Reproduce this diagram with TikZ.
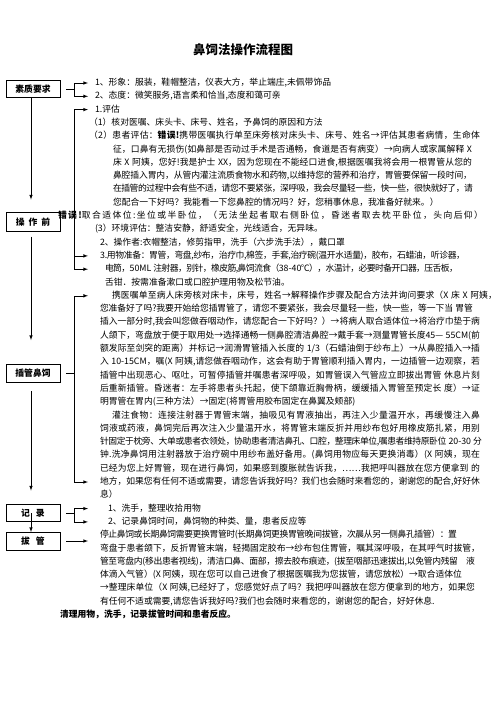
\documentclass[tikz,border=0pt]{standalone}
\usepackage{fontspec}
\setmainfont{Noto Sans CJK SC}
\usetikzlibrary{arrows,positioning}
% glue between CJK characters, so that a line can be set to a width
\XeTeXinterchartokenstate=1
\newcount\cjkc
\newcommand{\cjkrange}[2]{\cjkc=#1 \loop\XeTeXcharclass\cjkc=1 \advance\cjkc by 1 \ifnum\cjkc<#2 \repeat}
\cjkrange{"4E00}{"9FA6}
\cjkrange{"3000}{"3040}
\cjkrange{"FF00}{"FFF0}
\cjkrange{"2190}{"2200}
\cjkrange{"2014}{"2015}
\cjkrange{"2026}{"2027}
\cjkrange{"2103}{"2104}
\XeTeXinterchartoks 1 1 = {\hskip0pt plus 3pt minus 1pt\relax}
\XeTeXinterchartoks 1 0 = {\hskip0pt plus 3pt minus 1pt\relax}
\XeTeXinterchartoks 0 1 = {\hskip0pt plus 3pt minus 1pt\relax}
\newcommand{\jl}[2]{\makebox[#1pt][s]{\spaceskip=2.5pt plus 3pt minus 1pt #2}}

\begin{document}
\begin{tikzpicture}[x=1pt,y=-1pt,line width=0.6pt,every node/.style={outer sep=0pt}]

\tikzstyle{stage}=[draw,minimum width=54pt,minimum height=17pt,inner sep=0pt,font=\bfseries\fontsize{8.8pt}{10pt}\selectfont]
\tikzstyle{txt}=[anchor=west,inner sep=0pt,text height=7pt,text depth=2pt,font=\fontsize{8.8pt}{10pt}\selectfont]
\tikzstyle{flow}=[-latex]

\fill[white] (0,0) rectangle (500,707);
\useasboundingbox (0,0) rectangle (500,707);

\node[font=\bfseries\fontsize{12.5pt}{14pt}\selectfont] (title) at (243,50) {鼻饲法操作流程图};

% stages on the left
\node[stage] (qual) at (33,89) {素质要求};
\node[stage,minimum height=19pt] (pre) at (33,222) {操\hspace{4pt}作\hspace{4pt}前};
\node[stage,minimum height=18pt] (ins) at (33,373) {插管鼻饲};
\node[stage] (rec) at (33,513) {记\hspace{6pt}录};
\node[stage,minimum height=18pt] (pull) at (33,541) {拔\hspace{6pt}管};

% text lines
\node[txt] (l1) at (95,83.0) {1、形象：服装，鞋帽整洁，仪表大方，举止端庄,未佩带饰品};
\node[txt] (l2) at (95,96.3) {2、态度：微笑服务,语言柔和恰当,态度和蔼可亲};
\node[txt] (l3) at (95,109.6) {1.评估};
\node[txt] (l4) at (89,122.9) {（1）核对医嘱、床头卡、床号、姓名，予鼻饲的原因和方法};
\node[txt] (l5) at (89,136.2) {\jl{391}{（2）患者评估：\textbf{错误!}携带医嘱执行单至床旁核对床头卡、床号、姓名→评估其患者病情，生命体}};
\node[txt] (l6) at (113,149.5) {\jl{359}{征，口鼻有无损伤(如鼻部是否动过手术是否通畅，食道是否有病变）→向病人或家属解释 X}};
\node[txt] (l7) at (113,162.8) {\jl{359}{床 X 阿姨，您好!我是护士 XX，因为您现在不能经口进食,根据医嘱我将会用一根胃管从您的}};
\node[txt] (l8) at (113,176.1) {\jl{359}{鼻腔插入胃内，从管内灌注流质食物水和药物,以维持您的营养和治疗，胃管要保留一段时间，}};
\node[txt] (l9) at (113,189.4) {\jl{360}{在插管的过程中会有些不适，请您不要紧张，深呼吸，我会尽量轻一些，快一些，很快就好了，请}};
\node[txt] (l10) at (113,202.7) {您配合一下好吗？我能看一下您鼻腔的情况吗？好，您稍事休息，我准备好就来。）};
\node[txt] (l11) at (58,216.0) {\jl{425}{\textbf{错误!}取合适体位:坐位或半卧位，（无法坐起者取右侧卧位，昏迷者取去枕平卧位，头向后仰）}};
\node[txt] (l12) at (95,229.3) {(3）环境评估：整洁安静，舒适安全，光线适合，无异味。};
\node[txt] (l13) at (100,242.6) {2、操作者:衣帽整洁，修剪指甲，洗手（六步洗手法），戴口罩};
\node[txt] (l14) at (100,255.9) {\jl{365}{3.用物准备：胃管，弯盘,纱布，治疗巾,棉签，手套,治疗碗(温开水适量)，胶布，石蜡油，听诊器，}};
\node[txt] (l15) at (105,269.2) {\jl{353}{电筒，50ML 注射器，别针，橡皮筋,鼻饲流食（38-40℃），水温计，必要时备开口器，压舌板，}};
\node[txt] (l16) at (105,282.5) {舌钳．按需准备漱口或口腔护理用物及松节油。};
\node[txt] (l17) at (112,295.8) {\jl{385}{携医嘱单至病人床旁核对床卡，床号，姓名→解释操作步骤及配合方法并询问要求（X 床 X 阿姨，}};
\node[txt] (l18) at (100,309.1) {\jl{373}{您准备好了吗?我要开始给您插胃管了，请您不要紧张，我会尽量轻一些，快一些，等一下当 胃管}};
\node[txt] (l19) at (100,322.4) {\jl{380}{插入一部分时,我会叫您做吞咽动作，请您配合一下好吗？）→将病人取合适体位→将治疗巾垫于病}};
\node[txt] (l20) at (100,335.7) {\jl{380}{人颌下，弯盘放于便于取用处→选择通畅一侧鼻腔清洁鼻腔→戴手套→测量胃管长度45— 55CM(前}};
\node[txt] (l21) at (100,349.0) {\jl{380}{额发际至剑突的距离）并标记→润滑胃管插入长度的 1/3（石蜡油倒于纱布上）→从鼻腔插入→插}};
\node[txt] (l22) at (100,362.3) {\jl{380}{入 10-15CM，嘱(X 阿姨,请您做吞咽动作，这会有助于胃管顺利插入胃内，一边插管一边观察，若}};
\node[txt] (l23) at (100,375.6) {\jl{380}{插管中出现恶心、呕吐，可暂停插管并嘱患者深呼吸，如胃管误入气管应立即拔出胃管 休息片刻}};
\node[txt] (l24) at (100,388.9) {\jl{380}{后重新插管。昏迷者：左手将患者头托起，使下颌靠近胸骨柄，缓缓插入胃管至预定长 度）→证}};
\node[txt] (l25) at (100,402.2) {明胃管在胃内(三种方法）→固定(将胃管用胶布固定在鼻翼及颊部)};
\node[txt] (l26) at (112,415.5) {\jl{368}{灌注食物：连接注射器于胃管末端，抽吸见有胃液抽出，再注入少量温开水，再缓慢注入鼻}};
\node[txt] (l27) at (100,428.8) {\jl{380}{饲液或药液，鼻饲完后再次注入少量温开水，将胃管末端反折并用纱布包好用橡皮筋扎紧，用别}};
\node[txt] (l28) at (100,442.1) {\jl{382}{针固定于枕旁、大单或患者衣领处，协助患者清洁鼻孔、口腔，整理床单位,嘱患者维持原卧位 20-30 分}};
\node[txt] (l29) at (100,455.4) {\jl{380}{钟.洗净鼻饲用注射器放于治疗碗中用纱布盖好备用。(鼻饲用物应每天更换消毒）(X 阿姨，现在}};
\node[txt] (l30) at (100,468.7) {\jl{380}{已经为您上好胃管，现在进行鼻饲，如果感到腹胀就告诉我，……我把呼叫器放在您方便拿到 的}};
\node[txt] (l31) at (100,482.0) {\jl{380}{地方，如果您有任何不适或需要，请您告诉我好吗？我们也会随时来看您的，谢谢您的配合,好好休}};
\node[txt] (l32) at (100,495.3) {息）};
\node[txt] (l33) at (108,508.6) {1、洗手，整理收拾用物};
\node[txt] (l34) at (108,521.9) {2、记录鼻饲时间，鼻饲物的种类、量，患者反应等};
\node[txt] (l35) at (100,535.2) {\jl{357}{停止鼻饲或长期鼻饲需要更换胃管时(长期鼻饲更换胃管晚间拔管，次晨从另一侧鼻孔插管）：置}};
\node[txt] (l36) at (100,548.5) {\jl{380}{弯盘于患者颌下，反折胃管末端，轻揭固定胶布→纱布包住胃管，嘱其深呼吸，在其呼气时拔管，}};
\node[txt] (l37) at (100,561.8) {\jl{375}{管至弯盘内(移出患者视线)，清洁口鼻、面部，擦去胶布痕迹，(拔至咽部迅速拔出,以免管内残留　液}};
\node[txt] (l38) at (100,575.1) {体滴入气管）(X 阿姨，现在您可以自己进食了根据医嘱我为您拔管，请您放松）→取合适体位};
\node[txt] (l39) at (100,588.4) {\jl{375}{→整理床单位（X 阿姨,已经好了，您感觉好点了吗？我把呼叫器放在您方便拿到的地方，如果您}};
\node[txt] (l40) at (100,601.7) {有任何不适或需要,请您告诉我好吗?我们也会随时来看您的，谢谢您的配合，好好休息.};
\node[txt,font=\bfseries\fontsize{8.8pt}{10pt}\selectfont] (l41) at (60,615.0) {清理用物，洗手，记录拔管时间和患者反应。};

\coordinate (ax) at (31,0);
\coordinate (sp) at (74,0);
\coordinate (tp) at (88,0);

% down the left
\draw[flow,shorten >=13pt] (qual.south -| ax) -- (pre.north -| ax);
\draw[flow,shorten <=5pt,shorten >=24pt] (pre.south -| ax) -- (ins.north -| ax);
\draw[flow,shorten <=9pt,shorten >=14pt] (ins.south -| ax) -- (rec.north -| ax);
\draw[flow] (rec.center -| ax) -- (pull.north -| ax);

% brackets to the text
\draw ([xshift=6pt]qual.east) -- (qual.east -| sp);
\draw[latex-latex] (l1.west -| tp) -- (l1.west -| sp) -- (l2.west -| sp) -- (l2.west -| tp);

\draw[latex-latex] (l3.west -| tp) -- (l3.west -| sp) -- (l15.west -| sp) -- (l15.west -| tp);
\draw[flow] (l14.west -| sp) -- (l14.west -| tp);

\draw ([xshift=6pt]ins.east) -- (ins.east -| sp);
\draw[latex-latex] (l17.west -| tp) -- (l17.west -| sp) -- (l31.west -| sp) -- (l31.west -| tp);

\draw ([xshift=6pt]rec.east) -- (rec.east -| sp);
\draw[latex-latex] (l33.west -| tp) -- (l33.west -| sp) -- (l34.west -| sp) -- (l34.west -| tp);

\draw[flow] ([xshift=6pt]pull.east) -- (pull.east -| tp);

\end{tikzpicture}
\end{document}
